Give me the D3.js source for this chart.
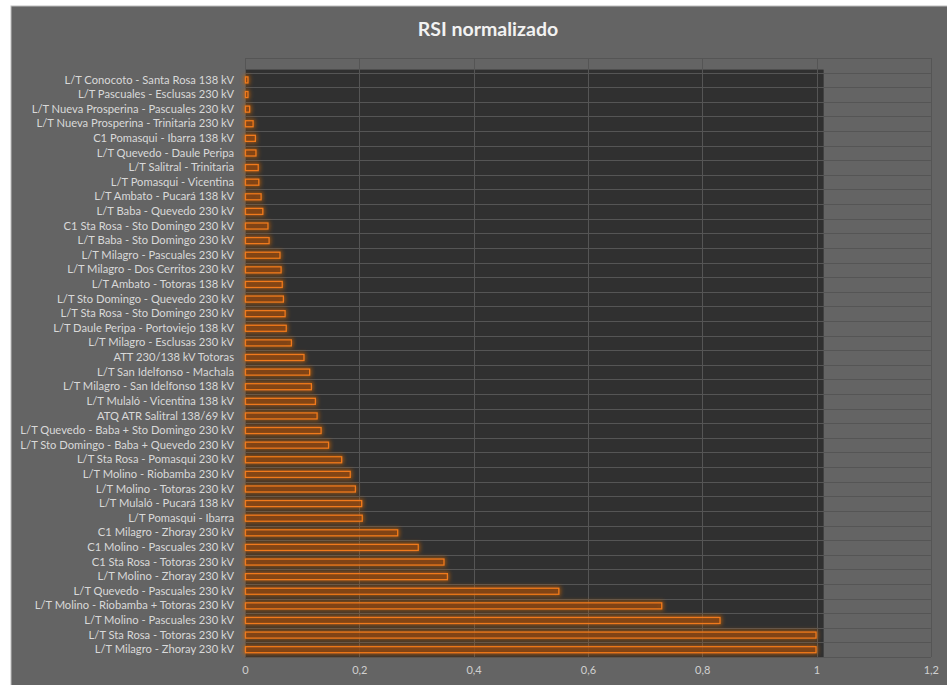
<!DOCTYPE html>
<html>
<head>
<meta charset="utf-8">
<script src="https://cdn.jsdelivr.net/npm/d3@7"></script>
<style>
  html, body { margin: 0; padding: 0; background: #ffffff; }
  svg { display: block; }
</style>
</head>
<body>
<script>
// Transmission elements, listed top to bottom as drawn
const categories = [
  "L/T Conocoto - Santa Rosa 138 kV",
  "L/T Pascuales - Esclusas 230 kV",
  "L/T Nueva Prosperina - Pascuales 230 kV",
  "L/T Nueva Prosperina - Trinitaria 230 kV",
  "C1 Pomasqui - Ibarra 138 kV",
  "L/T Quevedo - Daule Peripa",
  "L/T Salitral - Trinitaria",
  "L/T Pomasqui - Vicentina",
  "L/T Ambato - Pucará 138 kV",
  "L/T Baba - Quevedo 230 kV",
  "C1 Sta Rosa - Sto Domingo 230 kV",
  "L/T Baba - Sto Domingo 230 kV",
  "L/T Milagro - Pascuales 230 kV",
  "L/T Milagro - Dos Cerritos 230 kV",
  "L/T Ambato - Totoras 138 kV",
  "L/T Sto Domingo - Quevedo 230 kV",
  "L/T Sta Rosa - Sto Domingo 230 kV",
  "L/T Daule Peripa - Portoviejo 138 kV",
  "L/T Milagro - Esclusas 230 kV",
  "ATT 230/138 kV Totoras",
  "L/T San Idelfonso - Machala",
  "L/T Milagro - San Idelfonso 138 kV",
  "L/T Mulaló - Vicentina 138 kV",
  "ATQ ATR Salitral 138/69 kV",
  "L/T Quevedo - Baba + Sto Domingo 230 kV",
  "L/T Sto Domingo - Baba + Quevedo 230 kV",
  "L/T Sta Rosa - Pomasqui 230 kV",
  "L/T Molino - Riobamba 230 kV",
  "L/T Molino - Totoras 230 kV",
  "L/T Mulaló - Pucará 138 kV",
  "L/T Pomasqui - Ibarra",
  "C1 Milagro - Zhoray 230 kV",
  "C1 Molino - Pascuales 230 kV",
  "C1 Sta Rosa - Totoras 230 kV",
  "L/T Molino - Zhoray 230 kV",
  "L/T Quevedo - Pascuales 230 kV",
  "L/T Molino - Riobamba + Totoras 230 kV",
  "L/T Molino - Pascuales 230 kV",
  "L/T Sta Rosa - Totoras 230 kV",
  "L/T Milagro - Zhoray 230 kV"
];

// Normalized RSI per element
const rsiValues = [
  0.006, 0.006, 0.009, 0.015, 0.019, 0.020, 0.024, 0.025, 0.029, 0.032,
  0.041, 0.043, 0.062, 0.064, 0.066, 0.068, 0.071, 0.073, 0.082, 0.104,
  0.114, 0.117, 0.124, 0.127, 0.134, 0.147, 0.170, 0.185, 0.194, 0.205,
  0.206, 0.268, 0.304, 0.349, 0.355, 0.550, 0.730, 0.832, 1.000, 1.000
];

const xTicks = [0, 0.2, 0.4, 0.6, 0.8, 1.0, 1.2];
const titleText = "RSI normalizado";
const frameMax = 1.0125; // extent of the dark backdrop behind the bars

const W = 947, H = 685;
const FONT = "Lato, 'Open Sans', sans-serif";
const svg = d3.select("body").append("svg")
  .attr("width", W).attr("height", H)
  .style("font-family", FONT);

// glow for the bars
const defs = svg.append("defs");
const glow = defs.append("filter").attr("id", "glow")
  .attr("x", "-50%").attr("y", "-100%").attr("width", "200%").attr("height", "300%");
glow.append("feMorphology").attr("in", "SourceAlpha").attr("operator", "dilate").attr("radius", 1).attr("result", "thick");
glow.append("feGaussianBlur").attr("in", "thick").attr("stdDeviation", 2.2).attr("result", "blur");
glow.append("feFlood").attr("flood-color", "#c8620f").attr("flood-opacity", 0.8).attr("result", "col");
glow.append("feComposite").attr("in", "col").attr("in2", "blur").attr("operator", "in").attr("result", "halo");
const merge = glow.append("feMerge");
merge.append("feMergeNode").attr("in", "halo");
merge.append("feMergeNode").attr("in", "SourceGraphic");

// chart area
svg.append("rect")
  .attr("x", 11).attr("y", 6).attr("width", W).attr("height", H)
  .attr("fill", "#646464").attr("stroke", "#bdbdbd").attr("stroke-width", 1);

svg.append("text")
  .attr("x", 488).attr("y", 36)
  .attr("text-anchor", "middle")
  .attr("font-size", 19.5).attr("font-weight", "bold")
  .attr("fill", "#f2f2f2")
  .text(titleText);

const plotTop = 58, plotBottom = 657;
const band = (plotBottom - plotTop) / (categories.length + 1);

const x = d3.scaleLinear().domain([0, 1.2]).range([245, 930.8]);
const y = d3.scaleBand().domain(categories).range([plotTop + band, plotBottom]).padding(0);

// dark backdrop
svg.append("rect")
  .attr("x", x(0)).attr("y", plotTop + band - 3)
  .attr("width", x(frameMax) - x(0))
  .attr("height", plotBottom - (plotTop + band - 3))
  .attr("fill", "#303030");

// gridlines
const grid = svg.append("g").attr("stroke", "#555555").attr("stroke-width", 1);
d3.range(categories.length + 2).forEach(k => {
  const yy = Math.round(plotTop + k * band) + 0.5;
  grid.append("line").attr("x1", x(0)).attr("x2", x(1.2)).attr("y1", yy).attr("y2", yy);
});
grid.selectAll("line.v").data(xTicks).join("line").attr("class", "v")
  .attr("x1", d => Math.round(x(d)) + 0.5).attr("x2", d => Math.round(x(d)) + 0.5)
  .attr("y1", plotTop).attr("y2", plotBottom);

// bars
const barH = 6;
svg.append("g").attr("filter", "url(#glow)")
  .selectAll("rect").data(categories).join("rect")
  .attr("x", x(0) + 0.5)
  .attr("y", d => y(d) + (y.bandwidth() - barH) / 2)
  .attr("width", (d, i) => Math.max(0, x(rsiValues[i]) - x(0) - 1))
  .attr("height", barH)
  .attr("fill", "rgba(110,55,15,0.55)")
  .attr("stroke", "#f07a1a")
  .attr("stroke-width", 1.3);

// category axis labels
const yAxis = d3.axisLeft(y).tickSize(0).tickPadding(0);
const gy = svg.append("g").attr("transform", "translate(234,0)").call(yAxis);
gy.select(".domain").remove();
gy.selectAll("text").attr("fill", "#d9d9d9").attr("font-size", 11.2)
  .style("font-family", FONT);

// value axis labels
const xAxis = d3.axisBottom(x).tickValues(xTicks).tickSize(0).tickPadding(0)
  .tickFormat(d => d3.format("~g")(d).replace(".", ","));
const gx = svg.append("g").attr("transform", "translate(0,666)").call(xAxis);
gx.select(".domain").remove();
gx.selectAll("text").attr("fill", "#d0d0d0").attr("font-size", 11)
  .style("font-family", FONT);
</script>
</body>
</html>
